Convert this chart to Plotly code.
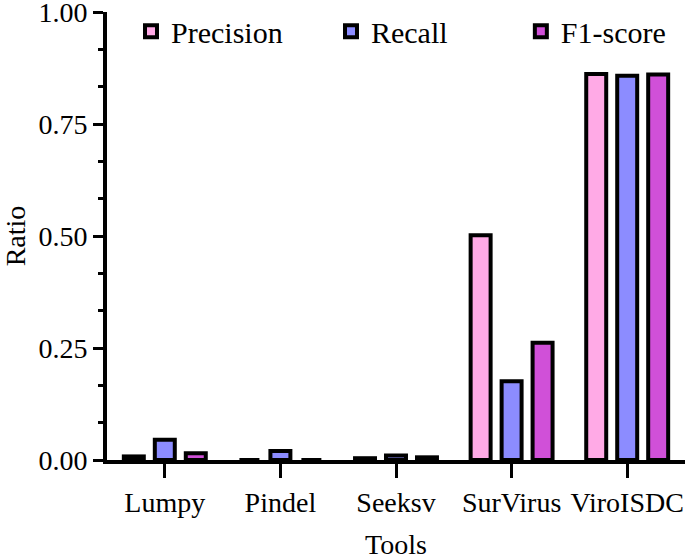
import plotly.graph_objects as go

tools = ["Lumpy", "Pindel", "Seeksv", "SurVirus", "ViroISDC"]
precision = [0.008, 0.0, 0.004, 0.502, 0.862]
recall = [0.045, 0.02, 0.01, 0.176, 0.858]
f1 = [0.015, 0.0, 0.006, 0.262, 0.861]
series_names = ["Precision", "Recall", "F1-score"]
colors = ["#FFAAE6", "#8C8CFF", "#D050D8"]
ytick_vals = [0, 0.25, 0.5, 0.75, 1.0]
legend_ids = ["legend", "legend2", "legend3"]
legend_x = [0.0415, 0.3875, 0.716]

font = "Liberation Serif"
fig = go.Figure()
for name, vals, c, lg in zip(series_names, [precision, recall, f1], colors, legend_ids):
    fig.add_trace(go.Bar(
        x=tools, y=vals, name=name, legend=lg, showlegend=True,
        marker=dict(color=c, line=dict(color="black", width=4)),
    ))

legend_common = dict(orientation="h", y=1.015, xanchor="left", yanchor="top",
                     bgcolor="rgba(0,0,0,0)",
                     font=dict(family=font, size=30, color="black"))

fig.update_layout(
    template="none",
    showlegend=True,
    width=685, height=560,
    margin=dict(l=107, r=0, t=12, b=100, autoexpand=False),
    paper_bgcolor="white", plot_bgcolor="white",
    barmode="group", bargap=0.196, bargroupgap=0.355,
    font=dict(family=font, size=28, color="black"),
    legend=dict(x=legend_x[0], **legend_common),
    legend2=dict(x=legend_x[1], **legend_common),
    legend3=dict(x=legend_x[2], **legend_common),
    xaxis=dict(
        showline=True, linecolor="black", linewidth=4,
        ticks="outside", ticklen=14, tickwidth=3, tickcolor="black",
        showgrid=False, range=[-0.5, 4.5], automargin=False,
        title=dict(text="Tools", font=dict(family=font, size=28, color="black"), standoff=40),
        tickfont=dict(family=font, size=28, color="black"),
    ),
    yaxis=dict(
        range=[0, 1.0005], showline=True, linecolor="black", linewidth=4,
        ticks="outside", ticklen=10, tickwidth=3, tickcolor="black",
        tickvals=ytick_vals, tickformat=".2f", ticklabeloverflow="allow",
        showgrid=False, zeroline=False, automargin=False,
        minor=dict(dtick=0.25/3, ticks="outside", ticklen=5, tickwidth=3, tickcolor="black"),
        title=dict(text="Ratio", font=dict(family=font, size=28, color="black"), standoff=12),
        tickfont=dict(family=font, size=28, color="black"),
    ),
)
fig.write_html("out.html")
